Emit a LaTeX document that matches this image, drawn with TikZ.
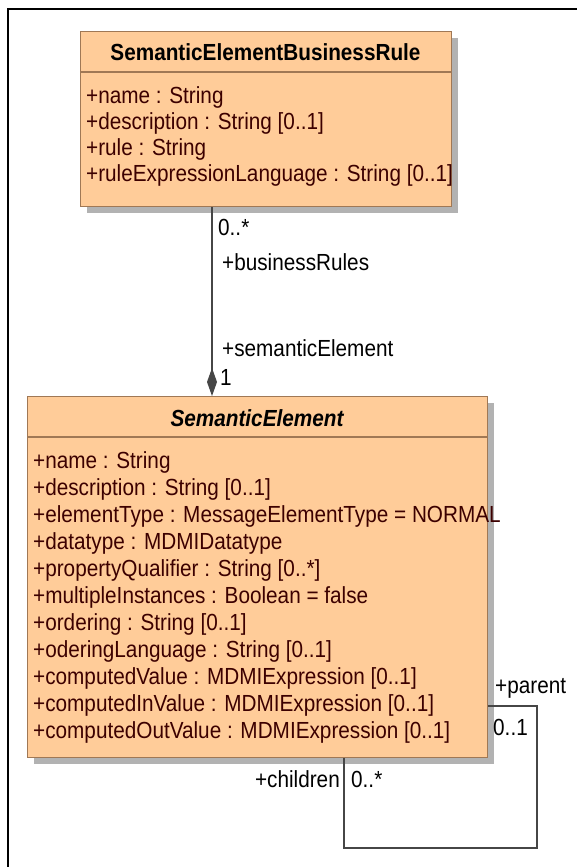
\documentclass[tikz,border=0pt]{standalone}
\usepackage{fontspec}
\setmainfont{Liberation Sans}
\newfontfamily\umlfamily[FakeStretch=0.89]{Liberation Sans}
\usetikzlibrary{arrows.meta,shadows}

\definecolor{classfill}{RGB}{255,204,153}
\definecolor{classborder}{RGB}{160,120,85}
\definecolor{attrtext}{RGB}{60,0,0}
\definecolor{shadowgray}{RGB}{178,178,178}
\definecolor{linkgray}{RGB}{70,70,70}

\tikzset{
  umlfont/.style={font=\umlfamily\fontsize{23.3}{27}\selectfont},
  classbox/.style={draw=classborder, line width=1.4pt, fill=classfill,
    rectangle, inner sep=0pt, anchor=north west,
    drop shadow={shadow xshift=6pt, shadow yshift=-6pt, fill=shadowgray, opacity=1}},
  separator/.style={draw=classborder, line width=1.4pt},
  classtitle/.style={umlfont, inner sep=0pt, anchor=base, text=black},
  attr/.style={umlfont, inner sep=0pt, anchor=base west, text=attrtext},
  rolelabel/.style={umlfont, inner sep=0pt, anchor=base west, text=black},
  assoc/.style={draw=linkgray, line width=1.4pt},
  frameline/.style={draw=black, line width=2.6pt}
}

\begin{document}
\begin{tikzpicture}[x=1pt, y=-1pt]
  \useasboundingbox (0,0) rectangle (577,867);

  % diagram frame (top and left edges)
  \coordinate (frtopleft) at (8,9);
  \coordinate (frtopright) at (577,9);
  \coordinate (frbottomleft) at (8,867);
  \draw[frameline] (frtopright) -- (frtopleft) -- (frbottomleft);

  % class SemanticElementBusinessRule
  \node[classbox, minimum width=371pt, minimum height=175pt] (brule) at (80,31) {};
  \draw[separator] ([yshift=-41pt]brule.north west) -- ([yshift=-41pt]brule.north east);
  \node[classtitle] (bruletitle) at (265.5,61) {\bfseries SemanticElementBusinessRule};
  \node[attr] (bra1) at (86,103) {+name : String};
  \node[attr] (bra2) at (86,129) {+description : String [0..1]};
  \node[attr] (bra3) at (86,155) {+rule : String};
  \node[attr] (bra4) at (86,181) {+ruleExpressionLanguage : String [0..1]};

  % class SemanticElement
  \node[classbox, minimum width=460pt, minimum height=361pt] (selem) at (27,396) {};
  \draw[separator] ([yshift=-41pt]selem.north west) -- ([yshift=-41pt]selem.north east);
  \node[classtitle] (selemtitle) at (257,426) {\bfseries\itshape SemanticElement};
  \node[attr] (sea1)  at (33,468) {+name : String};
  \node[attr] (sea2)  at (33,495) {+description : String [0..1]};
  \node[attr] (sea3)  at (33,522) {+elementType : MessageElementType = NORMAL};
  \node[attr] (sea4)  at (33,549) {+datatype : MDMIDatatype};
  \node[attr] (sea5)  at (33,576) {+propertyQualifier : String [0..*]};
  \node[attr] (sea6)  at (33,603) {+multipleInstances : Boolean = false};
  \node[attr] (sea7)  at (33,630) {+ordering : String [0..1]};
  \node[attr] (sea8)  at (33,657) {+oderingLanguage : String [0..1]};
  \node[attr] (sea9)  at (33,684) {+computedValue : MDMIExpression [0..1]};
  \node[attr] (sea10) at (33,711) {+computedInValue : MDMIExpression [0..1]};
  \node[attr] (sea11) at (33,738) {+computedOutValue : MDMIExpression [0..1]};

  % composition businessRules / semanticElement
  \coordinate (compx) at (212,0);
  \draw[assoc, -{Diamond[length=28pt, width=10pt, fill=linkgray]}]
    (brule.south -| compx) -- (selem.north -| compx);
  \node[rolelabel] (mult1) at (218,235) {0..*};
  \node[rolelabel] (role1) at (222,270) {+businessRules};
  \node[rolelabel] (role2) at (222,356) {+semanticElement};
  \node[rolelabel] (mult2) at (220,385) {1};

  % self association parent / children
  \coordinate (loopright) at (537,706);
  \coordinate (loopleft) at (344,848);
  \draw[assoc] (selem.east |- loopright) -- (loopright) |- (loopleft)
    -- (selem.south -| loopleft);
  \node[rolelabel] (role3) at (495,693) {+parent};
  \node[rolelabel] (mult3) at (493,735) {0..1};
  \node[umlfont, inner sep=0pt, anchor=base east, text=black] (role4) at (340,787) {+children};
  \node[rolelabel] (mult4) at (351,787) {0..*};
\end{tikzpicture}
\end{document}
